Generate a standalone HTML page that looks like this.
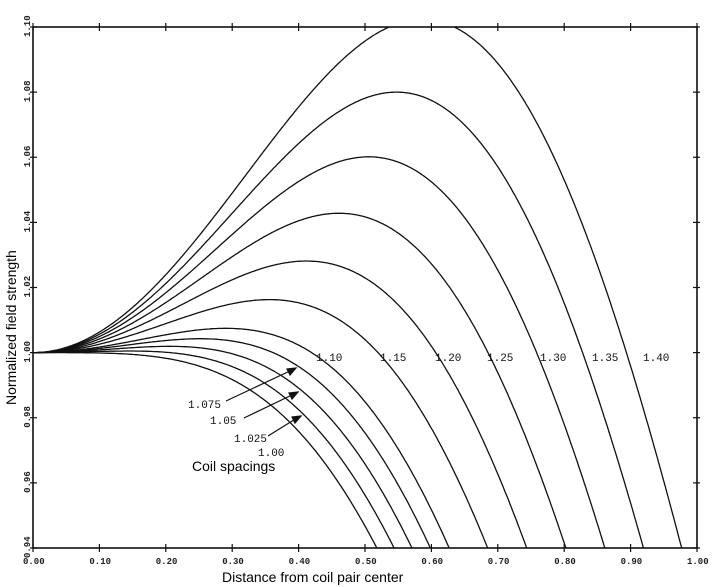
<!DOCTYPE html>
<html><head><meta charset="utf-8"><style>
html,body{margin:0;padding:0;background:#fff;}
svg{display:block;}
.t{font-family:"Liberation Mono",monospace;font-size:9px;font-weight:bold;fill:#222;}
.c{font-family:"Liberation Mono",monospace;font-size:11px;fill:#111;}
.a{font-family:"Liberation Sans",sans-serif;font-size:14px;fill:#000;}
</style></head><body>
<svg id="s" width="715" height="587" viewBox="0 0 715 587" xmlns="http://www.w3.org/2000/svg">
<defs><clipPath id="cp"><rect x="33" y="27" width="664" height="521"/></clipPath></defs>
<rect x="33" y="27" width="664" height="521" fill="none" stroke="#111" stroke-width="1.6"/>
<g id="curves" clip-path="url(#cp)" fill="none" stroke="#111" stroke-width="1.3"></g>
<g id="ticks" stroke="#111" stroke-width="1.2"></g>
<g id="lbl"></g>
<text class="c" x="316" y="361">1.10</text>
<text class="c" x="380" y="361">1.15</text>
<text class="c" x="435" y="361">1.20</text>
<text class="c" x="487" y="361">1.25</text>
<text class="c" x="540" y="361">1.30</text>
<text class="c" x="592" y="361">1.35</text>
<text class="c" x="643" y="361">1.40</text>
<text class="c" x="188" y="408">1.075</text>
<text class="c" x="210" y="424">1.05</text>
<text class="c" x="234" y="442">1.025</text>
<text class="c" x="258" y="456">1.00</text>
<g stroke="#111" stroke-width="1.2" fill="#111">
<line x1="226" y1="401" x2="292" y2="370"/><polygon points="296,368 287,369 290,375"/>
<line x1="244" y1="418" x2="294" y2="394"/><polygon points="298,392 289,393 292,399"/>
<line x1="268" y1="436" x2="297" y2="418"/><polygon points="301,416 292,417 295,423"/>
</g>
<text class="a" x="192" y="471">Coil spacings</text>
<text class="a" x="222" y="582">Distance from coil pair center</text>
<text class="a" transform="translate(16,405) rotate(-90)">Normalized field strength</text>
</svg>
<script>
var X0=33,X1=697,Y0=548,Y1=27;
function px(x){return X0+x*(X1-X0);}
function py(y){return Y0-(y-0.94)/0.16*(Y0-Y1);}
function B(z,s){var h=s/2;return Math.pow(1+(z-h)*(z-h),-1.5)+Math.pow(1+(z+h)*(z+h),-1.5);}
var sp=[1.0,1.025,1.05,1.075,1.10,1.15,1.20,1.25,1.30,1.35,1.40];
var g=document.getElementById('curves'),ns="http://www.w3.org/2000/svg";
sp.forEach(function(s){var b0=B(0,s),d="";for(var i=0;i<=400;i++){var x=i/400;var y=B(x/1.005,s)/b0;y=Math.max(0.93,Math.min(1.101,y));d+=(i?"L":"M")+px(x).toFixed(1)+" "+py(y).toFixed(1);}
var p=document.createElementNS(ns,"path");p.setAttribute("d",d);g.appendChild(p);});
var tk=document.getElementById('ticks'),lb=document.getElementById('lbl');
for(var i=0;i<=10;i++){var x=px(i/10);
[[x,Y0-4,x,Y0+4],[x,Y1-4,x,Y1+4]].forEach(function(a){var l=document.createElementNS(ns,"line");l.setAttribute("x1",a[0]);l.setAttribute("y1",a[1]);l.setAttribute("x2",a[2]);l.setAttribute("y2",a[3]);tk.appendChild(l);});
var t=document.createElementNS(ns,"text");t.setAttribute("class","t");t.setAttribute("x",x-10);t.setAttribute("y",564);t.textContent=(i/10).toFixed(2);lb.appendChild(t);}
for(var j=0;j<=8;j++){var v=0.94+j*0.02,y=py(v);
[[X0-3,y,X0+4,y],[X1-4,y,X1+3,y]].forEach(function(a){var l=document.createElementNS(ns,"line");l.setAttribute("x1",a[0]);l.setAttribute("y1",a[1]);l.setAttribute("x2",a[2]);l.setAttribute("y2",a[3]);tk.appendChild(l);});
var t=document.createElementNS(ns,"text");t.setAttribute("class","t");t.setAttribute("transform","translate(30,"+(y+10)+") rotate(-90)");t.textContent=v.toFixed(2);lb.appendChild(t);}
</script>
</body></html>
